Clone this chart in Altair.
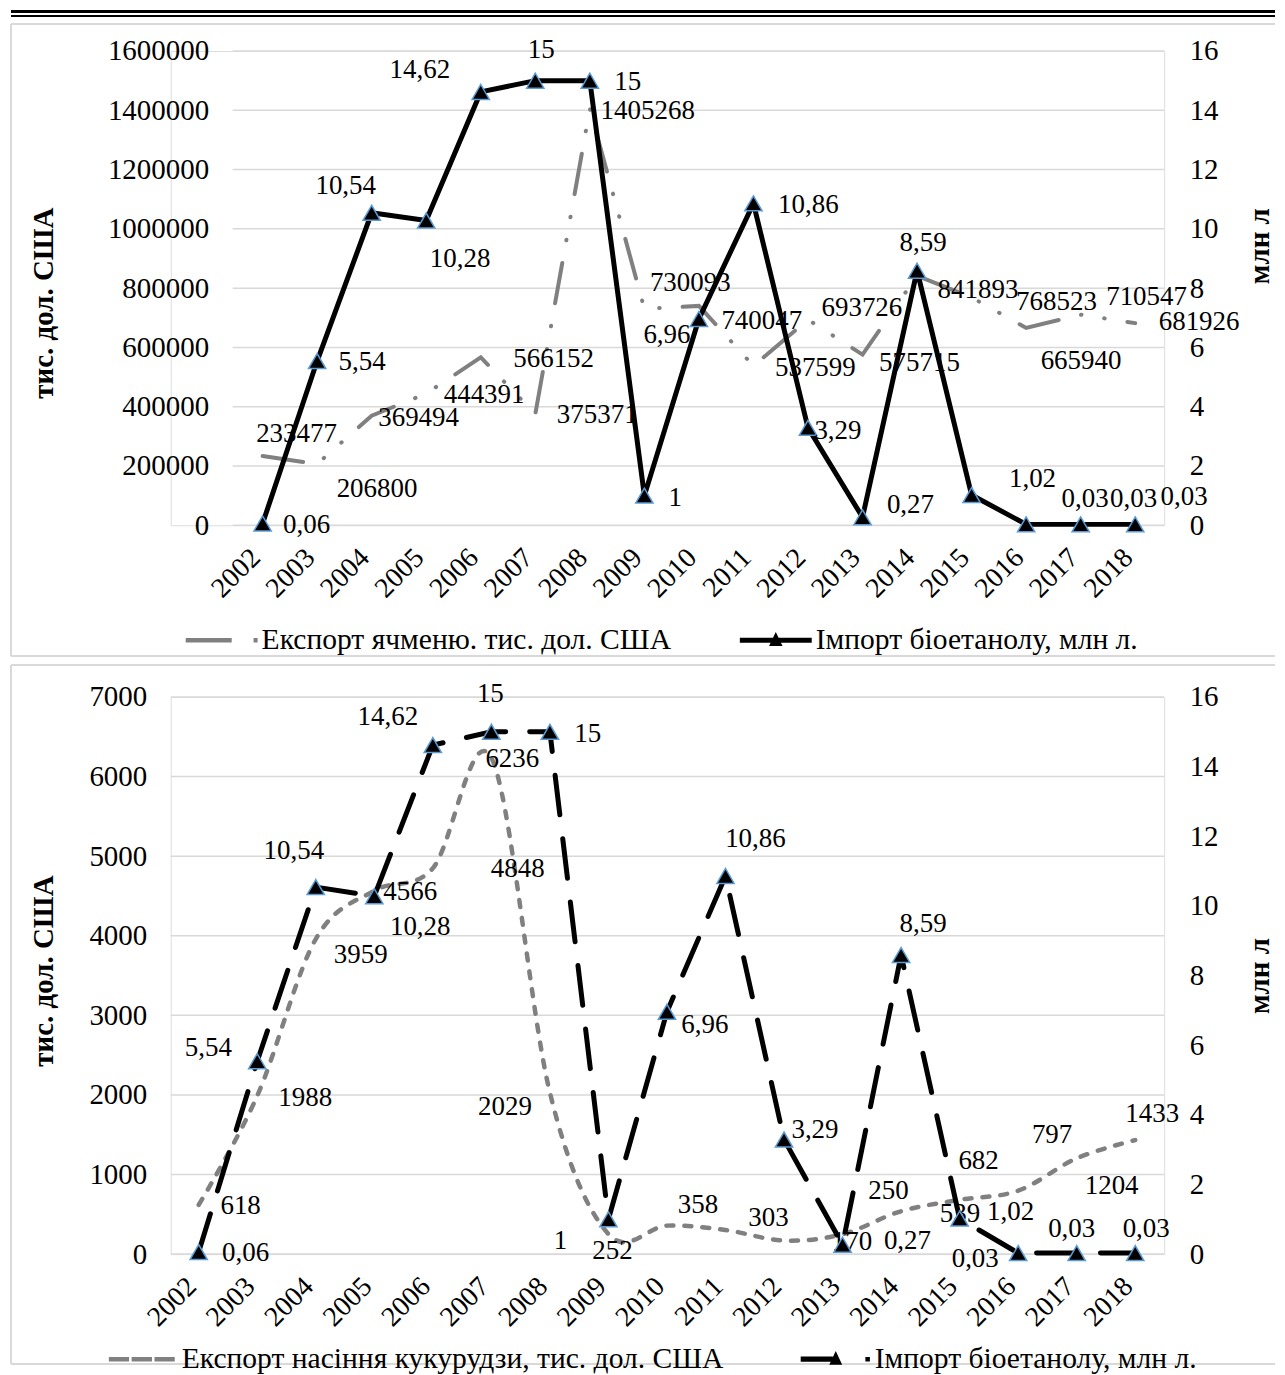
import altair as alt
import pandas as pd

# ---------------- data ----------------
years = [str(y) for y in range(2002, 2019)]
barley_export = [233477, 206800, 369494, 444391, 566152, 375371, 1405268, 730093,
                 740047, 537599, 693726, 575715, 841893, 768523, 665940, 710547, 681926]
ethanol_import = [0.06, 5.54, 10.54, 10.28, 14.62, 15, 15, 1, 6.96, 10.86, 3.29,
                  0.27, 8.59, 1.02, 0.03, 0.03, 0.03]
corn_export = [618, 1988, 3959, 4566, 4848, 6236, 2029, 252, 358, 303, 170, 250,
               539, 682, 797, 1204, 1433]

BARLEY = "Експорт ячменю. тис. дол. США"
ETHANOL = "Імпорт біоетанолу, млн л."
CORN = "Експорт насіння кукурудзи, тис. дол. США"
LEFT_TITLE = "тис. дол. США"
RIGHT_TITLE = "млн л"

left_ticks_top = list(range(0, 1600001, 200000))
left_ticks_bottom = list(range(0, 7001, 1000))
right_ticks = list(range(0, 17, 2))

# data-label placement offsets (pixels, relative to the point)
top_barley_dx = [34, 60, 47, 58, 73, 62, 58, 46, 63, 62, 54, 57, 61, 85, 55, 66, 64]
top_barley_dy = [-22, 25, 2, 1, 2, 1, 2, -26, 15, 2, -12, 8, 14, 5, 33, -18, -1]
top_eth_dx = [44, 45, -26, 34, -61, 6, 38, 31, -32, 55, 30, 48, 6, 61, 59, 53, 49]
top_eth_dy = [2, 1, -27, 39, -22, -31, 1, 2, 16, 2, 3, -12, -28, -16, -25, -25, -27]
bot_corn_dx = [42, 48, 45, 36, 85, 21, -45, 4, 31, 43, 68, 46, 59, 19, 34, 35, 17]
bot_corn_dy = [1, 2, 16, 1, 1, 1, 14, 17, -21, -12, 1, -43, 3, -39, -56, 28, -26]
bot_eth_dx = [47, -49, -22, 46, -45, -1, 38, -48, 38, 30, 31, 65, 22, 51, -43, -5, 11]
bot_eth_dy = [1, -13, -36, 31, -28, -38, 2, 22, 13, -37, -10, -4, -31, -7, 6, -24, -24]

# ---------------- style ----------------
FONT = "Liberation Serif"
GRAY = "#808080"
GRID = "#d9d9d9"
FRAME = "#d9d9d9"
TRI_EDGE = "#5b9bd5"
OFF = alt.Scale(domain=[-400, 400], range=[-400, 400])
PLOT_W = 995


def dec(v):
    return f"{v:g}".replace(".", ",")


top_df = pd.DataFrame({
    "year": years,
    "left": barley_export,
    "ethanol": ethanol_import,
    "left_label": [str(v) for v in barley_export],
    "eth_label": [dec(v) for v in ethanol_import],
    "ldx": top_barley_dx, "ldy": top_barley_dy,
    "edx": top_eth_dx, "edy": top_eth_dy,
})
bot_df = pd.DataFrame({
    "year": years,
    "left": corn_export,
    "ethanol": ethanol_import,
    "left_label": [str(v) for v in corn_export],
    "eth_label": [dec(v) for v in ethanol_import],
    "ldx": bot_corn_dx, "ldy": bot_corn_dy,
    "edx": bot_eth_dx, "edy": bot_eth_dy,
})

# legend symbols (unit = 15 px)
PATH_BARLEY = "M-2.4,-0.15H0.67V0.15H-2.4Z M2.13,-0.15H2.4V0.15H2.13Z"
PATH_ETH_SOLID = "M-2.4,-0.17H2.4V0.17H-2.4Z M0,-0.55L0.45,0.38L-0.45,0.38Z"
PATH_CORN = "M-2.2,-0.15H-0.85V0.15H-2.2Z M-0.68,-0.15H0.68V0.15H-0.68Z M0.85,-0.15H2.2V0.15H0.85Z"
PATH_ETH_DASH = "M-2.27,-0.17H-0.13V0.17H-2.27Z M0.07,-0.55L0.5,0.38L-0.36,0.38Z M2.05,-0.15H2.35V0.15H2.05Z"


def make_panel(df, left_max, left_ticks, left_line, eth_line, height, x_range, grid_x0,
               title_pad, names, paths, legend_x, legend_y, col_pad, frame,
               left_title_y, right_title_y, header=False):
    base = alt.Chart(df)
    x = alt.X("year:O", scale=alt.Scale(type="point", range=x_range, padding=0),
              axis=alt.Axis(title=None, labelAngle=-45, labelFontSize=28, labelPadding=28,
                            labelBaseline="middle", labelOffset=-7,
                            domain=False, ticks=False, grid=False))
    left_axis = alt.Axis(orient="left", values=left_ticks, format="d", grid=False,
                         domain=False, ticks=False, offset=-grid_x0,
                         labelFontSize=29, labelPadding=24, title=LEFT_TITLE,
                         titleFontSize=29, titleFontWeight="bold", titlePadding=title_pad,
                         titleY=left_title_y)
    right_axis = alt.Axis(orient="right", values=right_ticks, grid=False, domain=False,
                          ticks=False, labelFontSize=29, labelPadding=25,
                          title=RIGHT_TITLE, titleAngle=270, titleBaseline="top",
                          titleFontSize=29, titleFontWeight="bold", titlePadding=27,
                          titleY=right_title_y)
    lscale = alt.Scale(domain=[0, left_max], nice=False)
    rscale = alt.Scale(domain=[0, 16], nice=False)

    grid = alt.Chart(pd.DataFrame({"tick": left_ticks})).mark_rule(
        color=GRID, strokeWidth=1.5).encode(
        y=alt.Y("tick:Q", scale=lscale, axis=left_axis),
        x=alt.value(grid_x0), x2=alt.value(PLOT_W))
    left_line_l = base.mark_line(**left_line).encode(
        x=x, y=alt.Y("left:Q", scale=lscale, axis=left_axis))
    left_text = base.transform_calculate(
        ly=f"datum.left - datum.ldy * {left_max / height}"
    ).mark_text(font=FONT, fontSize=27, color="black").encode(
        x=x, y=alt.Y("ly:Q", scale=lscale, axis=left_axis), text="left_label:N",
        xOffset=alt.XOffset("ldx:Q", scale=OFF))
    left_layer = alt.layer(grid, left_line_l, left_text)

    eth_l = base.mark_line(**eth_line).encode(
        x=x, y=alt.Y("ethanol:Q", scale=rscale, axis=right_axis))
    eth_p = base.mark_point(shape="triangle-up", filled=True, fill="black", stroke=TRI_EDGE,
                            strokeWidth=1.5, size=300, opacity=1).encode(
        x=x, y=alt.Y("ethanol:Q", scale=rscale, axis=right_axis))
    eth_t = base.transform_calculate(
        ey=f"datum.ethanol - datum.edy * {16 / height}"
    ).mark_text(font=FONT, fontSize=27, color="black").encode(
        x=x, y=alt.Y("ey:Q", scale=rscale, axis=right_axis), text="eth_label:N",
        xOffset=alt.XOffset("edx:Q", scale=OFF))
    right_layer = alt.layer(eth_l, eth_p, eth_t)

    leg = alt.Legend(title=None, orient="none", legendX=legend_x, legendY=legend_y,
                     direction="horizontal", columns=2, symbolSize=900, symbolStrokeWidth=0,
                     labelFont=FONT, labelFontSize=29.6, labelColor="black", labelOffset=25,
                     columnPadding=col_pad, labelLimit=1000, padding=0)
    legend_df = pd.DataFrame({"series": names})
    legend_layer = alt.Chart(legend_df).transform_filter("false").mark_point(
        filled=True, opacity=1).encode(
        shape=alt.Shape("series:N", scale=alt.Scale(domain=names, range=paths), legend=leg),
        fill=alt.Fill("series:N", scale=alt.Scale(domain=names, range=[GRAY, "black"]), legend=leg),
    )

    one = pd.DataFrame({"k": [0]})
    fx1, fx2, fy1, fy2 = frame
    deco = [
        alt.Chart(one).mark_rule(color=FRAME, strokeWidth=2).encode(
            x=alt.value(fx1), x2=alt.value(fx2), y=alt.value(fy1)),
        alt.Chart(one).mark_rule(color=FRAME, strokeWidth=2).encode(
            x=alt.value(fx1), x2=alt.value(fx2), y=alt.value(fy2)),
        alt.Chart(one).mark_rule(color=FRAME, strokeWidth=2).encode(
            x=alt.value(fx1), y=alt.value(fy1), y2=alt.value(fy2)),
    ]
    if header:
        deco.append(alt.Chart(one).mark_rule(color="black", strokeWidth=3).encode(
            x=alt.value(fx1), x2=alt.value(fx2), y=alt.value(fy1 - 12.5)))
        deco.append(alt.Chart(one).mark_rule(color="black", strokeWidth=2).encode(
            x=alt.value(fx1), x2=alt.value(fx2), y=alt.value(fy1 - 8)))

    return alt.layer(*deco, left_layer, right_layer, legend_layer).resolve_scale(
        y="independent").properties(width=PLOT_W, height=height)


top = make_panel(
    top_df, 1600000, left_ticks_top,
    dict(color=GRAY, strokeWidth=4, strokeDash=[41, 23, 0.5, 23, 0.5, 23], strokeCap="round"),
    dict(color="black", strokeWidth=5),
    475, [92, 966], 62, 49, [BARLEY, ETHANOL], [PATH_BARLEY, PATH_ETH_SOLID],
    36, 575, 68, (-160, 1106, -27, 606), 252, 195, header=True)

bottom = make_panel(
    bot_df, 7000, left_ticks_bottom,
    dict(color=GRAY, strokeWidth=4.5, strokeDash=[7, 11], strokeCap="round",
         interpolate="cardinal"),
    dict(color="black", strokeWidth=5, strokeDash=[40, 24], strokeCap="round"),
    558, [28, 966], 0, 30, [CORN, ETHANOL], [PATH_CORN, PATH_ETH_DASH],
    -44, 648, 76, (-160, 1106, -32, 668), 274, 279)

chart = alt.vconcat(top, bottom, spacing=5).resolve_scale(
    shape="independent", fill="independent").resolve_legend(
    shape="independent", fill="independent").properties(
    padding={"left": 1, "top": 0, "right": 0, "bottom": 0}
).configure_view(stroke=None).configure_axis(
    labelColor="black", titleColor="black", labelFont=FONT, titleFont=FONT
).configure(font=FONT)

chart.save("out.html", embed_options={"renderer": "svg", "actions": False})
